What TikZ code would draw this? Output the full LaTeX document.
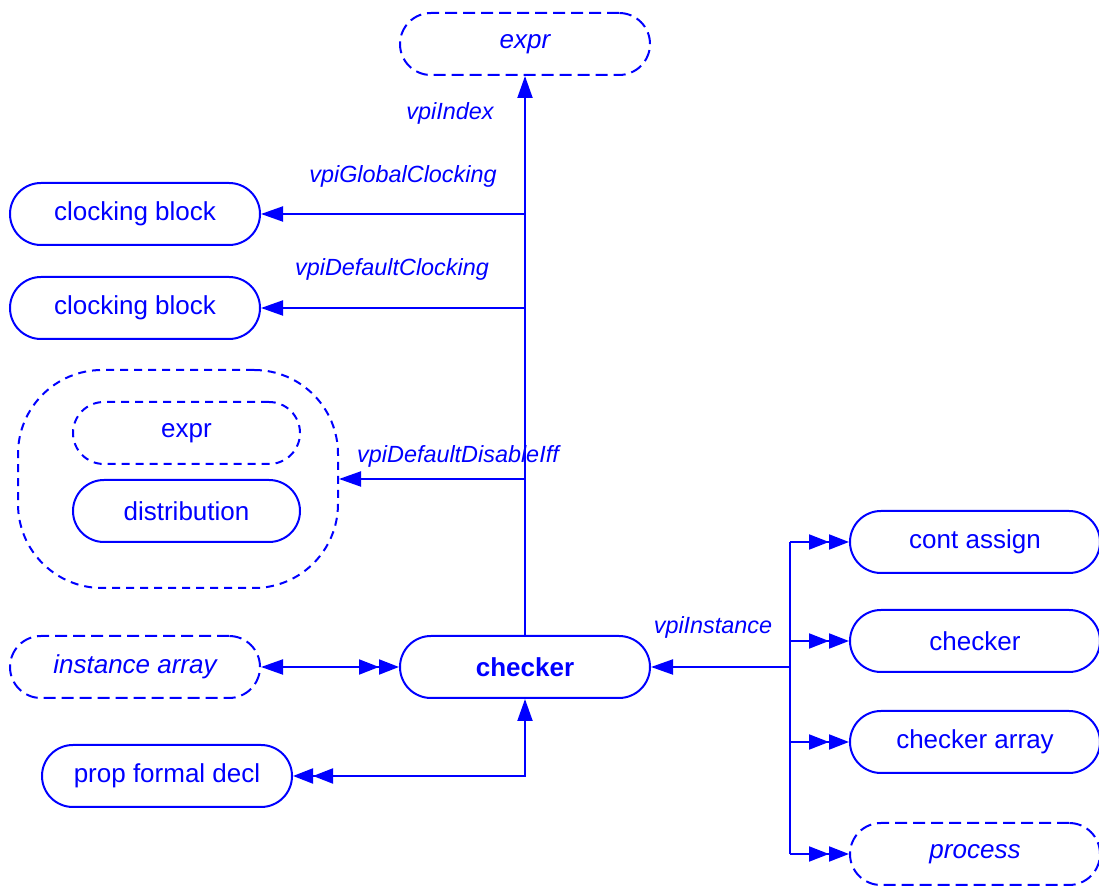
\documentclass[tikz,border=0pt]{standalone}
\usepackage{fontspec}
\setmainfont{Liberation Sans}
\usepackage{tikz}
\usetikzlibrary{calc,positioning,arrows.meta}
\definecolor{vpiblue}{RGB}{0,0,255}

\begin{document}
\begin{tikzpicture}[x=0.5pt,y=-0.5pt,
		obj/.style={draw=vpiblue, text=vpiblue, line width=1pt, rectangle, rounded corners=15.5pt,
			minimum width=125pt, minimum height=31pt, inner sep=2pt, font=\fontsize{13pt}{15pt}\selectfont},
		grpobj/.style={obj, dash pattern=on 6pt off 3pt},
		lbl/.style={text=vpiblue, font=\fontsize{11.7pt}{14pt}\selectfont\itshape, inner sep=0pt},
		link/.style={draw=vpiblue, line width=1pt},
		one/.style={link, -{Triangle[length=11pt,width=7.5pt]}},
		two/.style={link, -{Triangle[length=10pt,width=7.5pt] Triangle[length=10pt,width=7.5pt]}},
		onetwo/.style={link, {Triangle[length=11pt,width=7.5pt]}-{Triangle[length=10pt,width=7.5pt] Triangle[length=10pt,width=7.5pt]}}]
		\useasboundingbox (0,0) rectangle (1099,886);

		\node[grpobj, font=\fontsize{13pt}{15pt}\selectfont\itshape] (expr) at (525,44) {expr};
		\node[obj] (clk1) at (135,214) {clocking block};
		\node[obj] (clk2) at (135,308) {clocking block};
		\node[grpobj, dash pattern=on 4pt off 3pt, rounded corners=42pt, minimum width=160pt, minimum height=109pt] (grp) at (178,479) {};
		\node[grpobj, dash pattern=on 4pt off 3pt, minimum width=113.5pt] (gexpr) at (186.5,433) {expr};
		\node[obj, minimum width=113.5pt] (dist) at (186.5,511) {distribution};
		\node[grpobj, font=\fontsize{13pt}{15pt}\selectfont\itshape] (inst) at (135,667) {instance array};
		\node[obj, font=\fontsize{13pt}{15pt}\selectfont\bfseries] (checker) at (525,667) {checker};
		\node[obj] (prop) at (167,776) {prop formal decl};

		\node[obj] (ca) at (975,542) {cont assign};
		\node[obj] (chk) at (975,641) {checker};
		\node[obj] (chkarr) at (975,742) {checker array};
		\node[grpobj, font=\fontsize{13pt}{15pt}\selectfont\itshape] (proc) at (975,854) {process};

		\draw[one] (checker.north) -- (expr.south);
		\node[lbl] (lindex) at (450,113) {vpiIndex};

		\draw[one] (checker.north |- clk1.east) -- (clk1.east);
		\node[lbl] (lglobal) at (403,176) {vpiGlobalClocking};
		\draw[one] (checker.north |- clk2.east) -- (clk2.east);
		\node[lbl] (ldefclk) at (392,269) {vpiDefaultClocking};
		\draw[one] (checker.north |- grp.east) -- (grp.east);
		\node[lbl] (ldisable) at (458,456) {vpiDefaultDisableIff};

		\draw[onetwo] (inst.east) -- (checker.west);
		\draw[onetwo] (checker.south) |- (prop.east);

		\coordinate (bus) at (790,667);
		\draw[link] (bus |- ca) -- (bus |- proc);
		\draw[one] (bus) -- (checker.east);
		\node[lbl] (linstance) at (713,627) {vpiInstance};
		\foreach \n in {ca,chk,chkarr,proc}
			\draw[two] (bus |- \n) -- (\n.west);
	\end{tikzpicture}
\end{document}
